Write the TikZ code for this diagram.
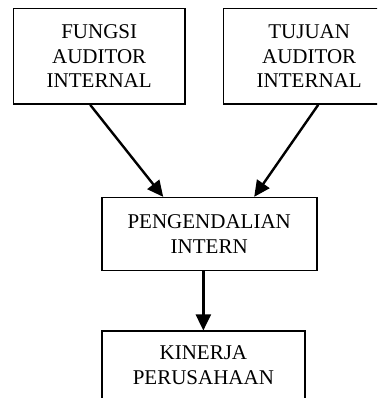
\documentclass[tikz,border=0pt]{standalone}
\usepackage{fontspec}
\setmainfont{Liberation Serif}
\usetikzlibrary{positioning, arrows.meta, calc}

\begin{document}
\begin{tikzpicture}[
    x=1pt, y=1pt,
    box/.style={draw=black, line width=1.6pt, align=center, fill=white, inner sep=0pt, text=black, font=\fontsize{21}{24.5}\selectfont},
    topbox/.style={box, minimum width=171.7pt, minimum height=95.7pt},
    arrow/.style={-{Triangle[length=16pt, width=15pt]}, line width=2.4pt}
]

% Page frame (the right box runs past the edge)
\path[use as bounding box, clip] (-99.2,56.2) rectangle ++(377,-398);

% Top row
\node[topbox] (fungsi) {FUNGSI\\AUDITOR\\INTERNAL};
\node[topbox, right=36.7pt of fungsi] (tujuan) {TUJUAN\\AUDITOR\\INTERNAL};

% Middle and bottom
\node[box, below=92pt of fungsi, xshift=110pt, minimum width=215pt, minimum height=72.7pt] (pengendalian) {PENGENDALIAN\\INTERN};
\node[box, below=59.3pt of pengendalian.south west, anchor=north west, minimum width=203.3pt, minimum height=67.6pt] (kinerja) {KINERJA\\PERUSAHAAN};

% ================= Arrows =================

% End points a little off the box centres
\coordinate (fungsi_out)   at ($(fungsi.south) + (-9, 0)$);
\coordinate (tujuan_out)   at ($(tujuan.south) + (9, 0)$);
\coordinate (peng_in_left)  at ($(pengendalian.north) + (-46, 0)$);
\coordinate (peng_in_right) at ($(pengendalian.north) + (45, 0)$);

\draw[arrow] (fungsi_out) -- (peng_in_left);
\draw[arrow] (tujuan_out) -- (peng_in_right);
\draw[arrow] (pengendalian.south -| kinerja.north) -- (kinerja.north);

\end{tikzpicture}
\end{document}
